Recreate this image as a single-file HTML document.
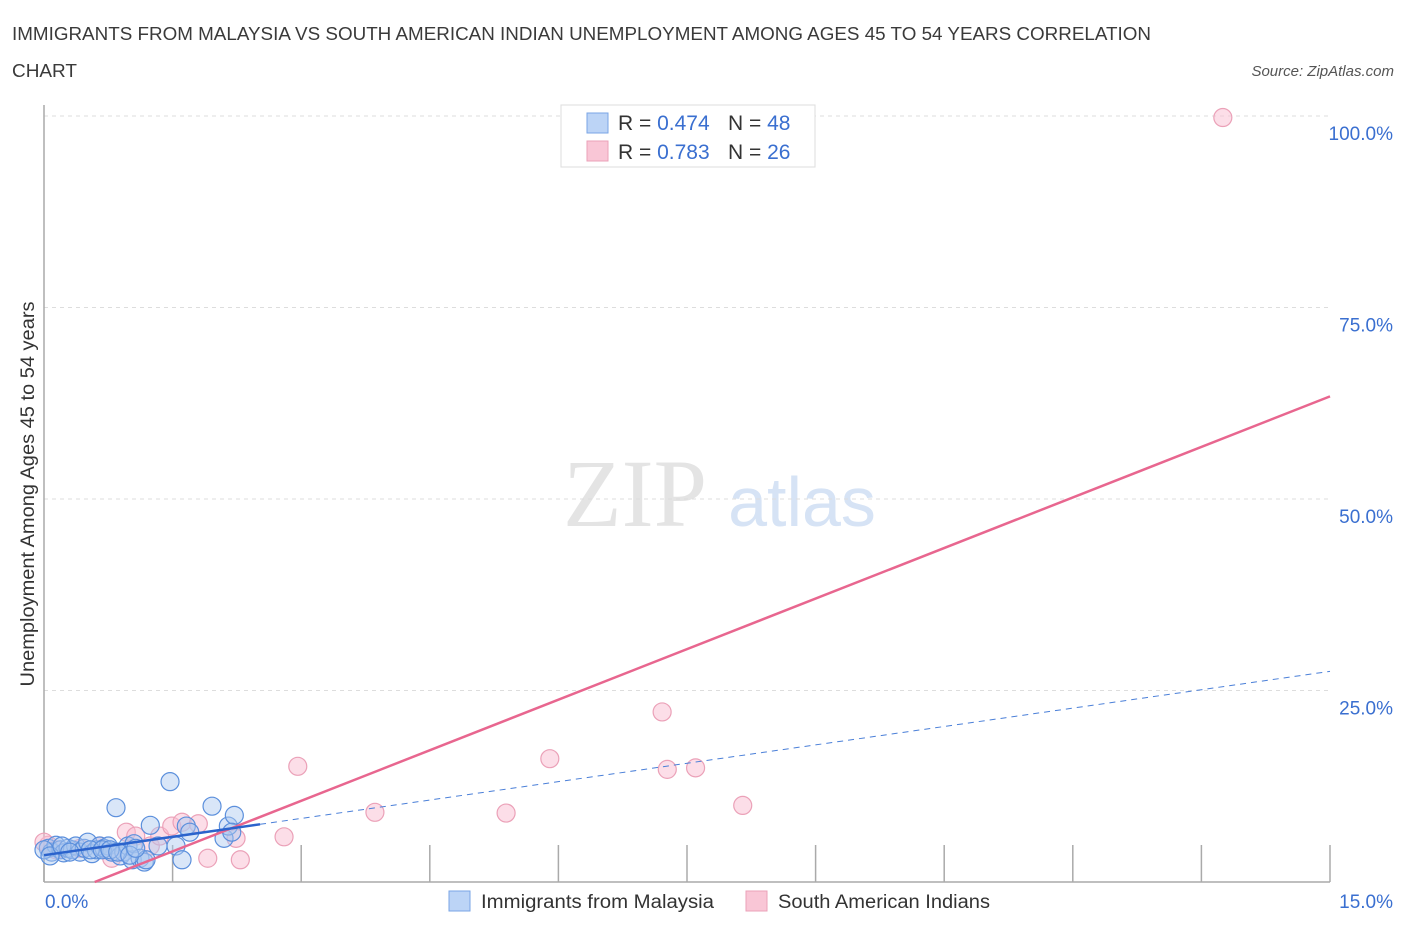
<!DOCTYPE html>
<html><head><meta charset="utf-8"><style>
body{margin:0;background:#fff;font-family:"Liberation Sans",sans-serif;}
</style></head><body>
<svg id="chart" width="1406" height="930" xmlns="http://www.w3.org/2000/svg" style="font-family:'Liberation Sans',sans-serif">
<text x="12" y="40" font-size="18" fill="#3a3a3a" textLength="1139" lengthAdjust="spacingAndGlyphs">IMMIGRANTS FROM MALAYSIA VS SOUTH AMERICAN INDIAN UNEMPLOYMENT AMONG AGES 45 TO 54 YEARS CORRELATION</text>
<text x="12" y="77" font-size="18" fill="#3a3a3a" textLength="65" lengthAdjust="spacingAndGlyphs">CHART</text>
<text x="1394" y="76" font-size="15" fill="#555" font-style="italic" text-anchor="end">Source: ZipAtlas.com</text>
<text transform="translate(34,494) rotate(-90)" font-size="19" fill="#333" text-anchor="middle" textLength="385" lengthAdjust="spacingAndGlyphs">Unemployment Among Ages 45 to 54 years</text>
<g>
<text x="635" y="526" font-size="96" fill="#e4e4e4" font-family="Liberation Serif,serif" text-anchor="middle">ZIP</text>
<text x="802" y="526" font-size="70" fill="#d6e3f5" text-anchor="middle">atlas</text>
</g>
<g id="grid"></g><g id="ticks"></g>
<line x1="44" y1="105" x2="44" y2="882" stroke="#aaa" stroke-width="1.5"/>
<line x1="44" y1="882" x2="1330" y2="882" stroke="#aaa" stroke-width="1.5"/>
<g id="points"></g><g id="lines"></g>
<text x="45" y="908" font-size="19" fill="#3a6fd0">0.0%</text>
<text x="1393" y="908" font-size="19" fill="#3a6fd0" text-anchor="end">15.0%</text>
<g>
<rect x="561" y="105" width="254" height="62" fill="#fff" stroke="#ddd"/>
<rect x="587" y="113" width="21" height="20" fill="#bcd4f6" stroke="#7aa5e6"/>
<rect x="587" y="141" width="21" height="20" fill="#f9c6d6" stroke="#eba1b8"/>
<text x="618" y="130" font-size="21" fill="#333">R = <tspan fill="#3a6fd0">0.474</tspan></text>
<text x="728" y="130" font-size="21" fill="#333">N = <tspan fill="#3a6fd0">48</tspan></text>
<text x="618" y="159" font-size="21" fill="#333">R = <tspan fill="#3a6fd0">0.783</tspan></text>
<text x="728" y="159" font-size="21" fill="#333">N = <tspan fill="#3a6fd0">26</tspan></text>
</g>
<g>
<rect x="449" y="891" width="21" height="20" fill="#bcd4f6" stroke="#7aa5e6"/>
<text x="481" y="908" font-size="19" fill="#333" textLength="233" lengthAdjust="spacingAndGlyphs">Immigrants from Malaysia</text></g>
<g>
<rect x="746" y="891" width="21" height="20" fill="#f9c6d6" stroke="#eba1b8"/>
<text x="778" y="908" font-size="19" fill="#333" textLength="212" lengthAdjust="spacingAndGlyphs">South American Indians</text></g>
</svg>
<script>
const yTicks=[25,50,75,100];
const yTickLabels=["25.0%","50.0%","75.0%","100.0%"];
const xTicks=[0,1.5,3,4.5,6,7.5,9,10.5,12,13.5,15];
const blueX=[0.05,0.09,0.14,0.19,0.23,0.28,0.33,0.37,0.42,0.47,0.51,0.56,0.61,0.65,0.70,0.75,0.79,0.84,0.89,0.93,0.98,1.03,1.05,1.12,1.17,1.19,1.24,1.33,1.47,1.54,1.61,1.66,1.70,1.96,2.10,2.15,2.22,2.19,0,0.07,0.21,0.30,0.54,0.68,0.77,0.86,1.00,1.07];
const blueY=[4.4,3.9,4.8,4.2,3.8,4.4,4.2,4.7,3.9,4.4,5.2,3.7,4.2,4.7,4.4,4.7,3.9,9.7,3.4,3.9,4.7,2.9,5.0,3.1,2.6,2.9,7.4,4.7,13.1,4.7,2.9,7.3,6.5,9.9,5.7,7.3,8.7,6.5,4.2,3.4,4.7,3.9,4.2,4.2,4.2,3.9,3.5,4.4];
const pinkX=[0.05,0.14,0.42,0.65,0.79,0.96,1.07,1.24,1.35,1.49,1.61,1.80,1.91,2.24,2.29,2.80,2.96,3.86,5.39,5.90,7.21,7.27,7.60,8.15,13.75,0];
const pinkY=[4.8,4.2,4.4,4.7,3.1,6.5,6.0,4.7,6.0,7.3,7.8,7.6,3.1,5.7,2.9,5.9,15.1,9.1,9.0,16.1,22.2,14.7,14.9,10.0,99.8,5.2];
const blueFit=[3.5,1.6];
const pinkFit=[-2.6,4.4];
const NS="http://www.w3.org/2000/svg";
const sx=v=>44+v/15*1286;
const sy=v=>882-v/25*191.5;
function mk(tag,attrs,parent){const e=document.createElementNS(NS,tag);for(const k in attrs)e.setAttribute(k,attrs[k]);document.getElementById(parent).appendChild(e);return e;}
yTicks.forEach((t,i)=>{
 const l=mk('line',{x1:44,x2:1330,y1:sy(t),y2:sy(t),stroke:'#ddd','stroke-dasharray':'4,4'},'grid');
 
 
 const tx=mk('text',{x:1393,y:sy(t)+24,'font-size':19,fill:'#3a6fd0','text-anchor':'end'},'grid');
 tx.textContent=yTickLabels[i];
 
 
});
xTicks.forEach(t=>{
 const l=mk('line',{x1:sx(t),x2:sx(t),y1:845,y2:882,stroke:'#aaa','stroke-width':1.5},'ticks');
 
 
});
pinkX.forEach((x,i)=>{
 const c=mk('circle',{cx:sx(x),cy:sy(pinkY[i]),r:9,fill:'rgba(249,190,210,0.5)',stroke:'#eba1b8','stroke-width':1.2},'points');
 
 
});
blueX.forEach((x,i)=>{
 const c=mk('circle',{cx:sx(x),cy:sy(blueY[i]),r:9,fill:'rgba(170,200,240,0.45)',stroke:'#5b8fdc','stroke-width':1.2},'points');
 
 
});
const px0=-pinkFit[0]/pinkFit[1];
const pl=mk('line',{x1:sx(px0),y1:sy(0),x2:sx(15),y2:sy(pinkFit[0]+pinkFit[1]*15),stroke:'#e8668f','stroke-width':2.5},'lines');


const bs=mk('line',{x1:sx(0),y1:sy(blueFit[0]),x2:sx(2.52),y2:sy(blueFit[0]+blueFit[1]*2.52),stroke:'#2b63cc','stroke-width':2.5},'lines');


const bd=mk('line',{x1:sx(2.52),y1:sy(blueFit[0]+blueFit[1]*2.52),x2:sx(15),y2:sy(blueFit[0]+blueFit[1]*15),stroke:'#4a7fd8','stroke-width':1,'stroke-dasharray':'6,5'},'lines');


</script>
</body></html>
